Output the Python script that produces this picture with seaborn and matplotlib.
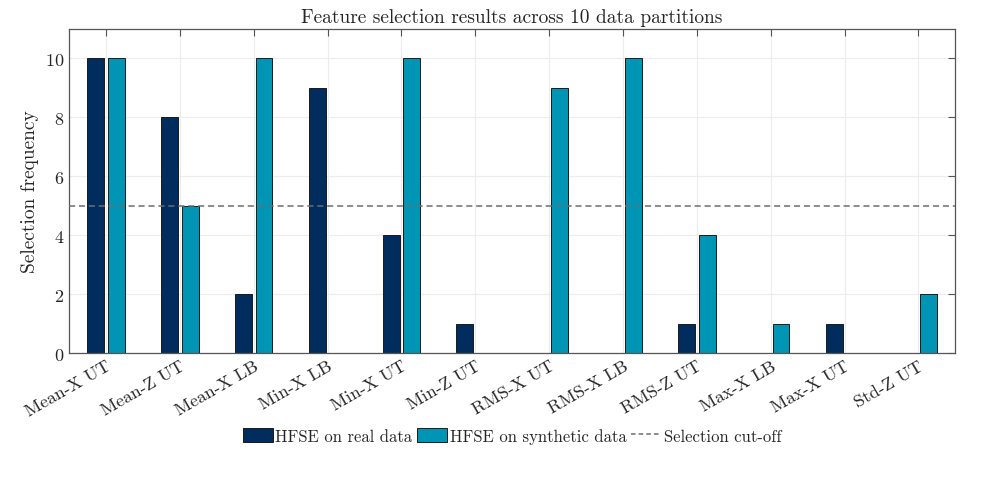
import matplotlib
matplotlib.use("Agg")
import matplotlib.pyplot as plt
import seaborn as sns
import pandas as pd
from matplotlib.lines import Line2D

features = ["Mean-X UT", "Mean-Z UT", "Mean-X LB", "Min-X LB", "Min-X UT", "Min-Z UT",
            "RMS-X UT", "RMS-X LB", "RMS-Z UT", "Max-X LB", "Max-X UT", "Std-Z UT"]
real_counts = [10, 8, 2, 9, 4, 1, 0, 0, 1, 0, 1, 0]
synthetic_counts = [10, 5, 10, 0, 10, 0, 9, 10, 4, 1, 0, 2]
series_names = ["HFSE on real data", "HFSE on synthetic data"]
cutoff = 5

df = pd.DataFrame({
    "feature": features * 2,
    "count": real_counts + synthetic_counts,
    "method": [series_names[0]] * len(features) + [series_names[1]] * len(features),
})

sns.set_style("white")
plt.rcParams["font.family"] = ["cmr10", "DejaVu Serif"]
plt.rcParams["axes.formatter.use_mathtext"] = True
plt.rcParams["mathtext.fontset"] = "cm"

fig = plt.figure(figsize=(9.97, 4.81), dpi=100)
ax = fig.add_axes([0.0692, 0.264, 0.889, 0.674])

sns.barplot(data=df, x="feature", y="count", hue="method", order=features,
            palette=["#002d5e", "#0094b5"], saturation=1, width=0.56, gap=0.18,
            edgecolor="#1a1a1a", linewidth=0.7, ax=ax, legend=True)

ax.axhline(cutoff, color="#6e6e6e", linestyle="--", linewidth=1.1, dashes=(4, 2.5), zorder=3)

ax.set_xlim(-0.5, len(features) - 0.5)
ax.set_ylim(0, 11)
ax.set_yticks([0, 2, 4, 6, 8, 10])
ax.set_xlabel("")
ax.set_ylabel("Selection frequency", fontsize=14)
ax.set_title("Feature selection results across 10 data partitions", fontsize=14, pad=5)
ax.set_xticks(range(len(features)))
ax.set_xticklabels(features, rotation=30, ha="right", rotation_mode="anchor", fontsize=13)
ax.tick_params(axis="y", labelsize=13)
ax.tick_params(direction="in", length=5, color="#555555", top=True, right=True)

ax.grid(True, color="#ececec", linewidth=0.8)
ax.set_axisbelow(True)
for s in ax.spines.values():
    s.set_color("#555555")
    s.set_linewidth(0.9)

handles, labels = ax.get_legend_handles_labels()
handles = handles[:2] + [Line2D([0], [0], color="#6e6e6e", linestyle="--", linewidth=1.1, dashes=(3, 2))]
labels = series_names + ["Selection cut-off"]
ax.legend(handles, labels, loc="center", bbox_to_anchor=(0.5, -0.255), ncol=3,
          frameon=False, fontsize=12, handlelength=1.8, handleheight=0.9,
          handletextpad=0.15, columnspacing=0.3)

fig.savefig("out.png", dpi=100)
